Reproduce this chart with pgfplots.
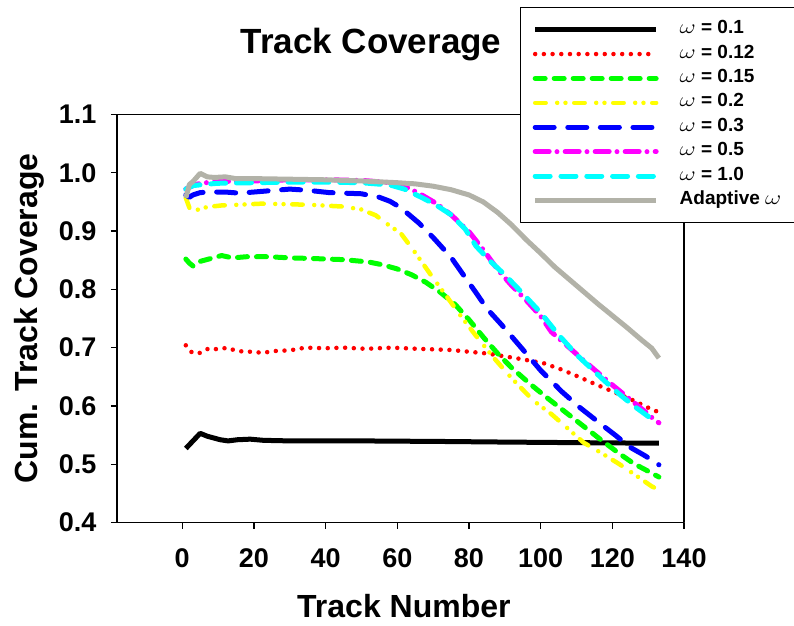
\documentclass[border=0pt]{standalone}
\usepackage{pgfplots}
\pgfplotsset{compat=1.18}
\usepackage{fontspec}
\setmainfont{Liberation Sans}
\definecolor{adapt}{RGB}{178,178,168}
\definecolor{cred}{RGB}{255,0,0}
\definecolor{cgreen}{RGB}{0,255,0}
\definecolor{cyellow}{RGB}{255,255,0}
\definecolor{cblue}{RGB}{0,0,255}
\definecolor{cmag}{RGB}{255,0,255}
\definecolor{ccyan}{RGB}{0,255,255}
\newcommand{\om}{\scalebox{1.45}[1.15]{$\omega$}}
\begin{document}
\begin{tikzpicture}
\useasboundingbox (0,0) rectangle (794pt,625pt);
\begin{axis}[
  at={(117pt,102.5pt)}, anchor=south west,
  scale only axis, width=567pt, height=408pt,
  xmin=-18.2, xmax=140, ymin=0.4, ymax=1.1,
  xtick={0,20,40,60,80,100,120,140},
  ytick={0.4,0.5,0.6,0.7,0.8,0.9,1.0,1.1},
  yticklabel style={xshift=-11pt, /pgf/number format/.cd, fixed, fixed zerofill, precision=1},
  /pgf/number format/assume math mode=true,
  tick label style={font=\fontsize{27}{32}\selectfont\bfseries},
  xticklabel style={yshift=-17pt},
  axis line style={line width=1.2pt},
  tick style={line width=1.2pt, black},
  major tick length=6pt, tick align=outside,
  xtick pos=bottom, ytick pos=left,
  no markers,
  title={Track Coverage},
  title style={font=\fontsize{35}{40}\selectfont\bfseries, at={(axis description cs:0.448,1.1336)}, anchor=base},
  xlabel={Track Number},
  xlabel style={font=\fontsize{32}{38}\selectfont\bfseries, at={(axis description cs:0.506,-0.2316)}, anchor=base},
  ylabel={Cum. Track Coverage},
  ylabel style={font=\fontsize{32}{38}\selectfont\bfseries, at={(axis description cs:-0.141,0.5)}, anchor=base},
  legend cell align=left,
  legend image code/.code={\draw[#1] (0pt,0pt) -- (121pt,0pt);},
  legend style={at={(axis description cs:0.7108,1.2635)}, anchor=north west,
    draw=black, line width=1.3pt, fill=white, inner xsep=12pt, inner ysep=14pt,
    row sep=8.4pt, font=\fontsize{19}{22}\selectfont\bfseries,
    nodes={inner sep=0pt, text height=12pt, text depth=4pt},
    /tikz/every odd column/.append style={column sep=21pt}},
  line join=round,
]
\addplot[black, line width=5pt] coordinates {
(1,0.527)(3,0.540)(5,0.553)(7,0.548)(10.6,0.542)(12.8,0.540)(15.4,0.542)(19,0.543)(22.6,0.541)(30,0.540)(38,0.540)(50,0.540)(73,0.539)(90,0.538)(110,0.537)(133,0.536)};
\addlegendentry{\om\ = 0.1}
\addplot[cred, line width=4.5pt, line cap=round, dash pattern=on 0pt off 8.7pt] coordinates {
(1,0.704)(2.8,0.691)(5,0.691)(7.5,0.699)(10.1,0.697)(12.6,0.700)(14.8,0.695)(17.3,0.693)(19.9,0.693)(22.2,0.691)(24.5,0.693)(27,0.695)(29.3,0.695)(31.8,0.697)(34.2,0.700)(40,0.699)(45,0.700)(51.3,0.698)(58.4,0.700)(65.7,0.698)(70.4,0.697)(75,0.696)(80,0.693)(85,0.690)(89,0.686)(95,0.680)(101,0.673)(106,0.662)(111,0.649)(115,0.638)(120,0.625)(125,0.612)(130,0.597)(133,0.589)};
\addlegendentry{\om\ = 0.12}
\addplot[cgreen, line width=5pt, line cap=round, dash pattern=on 10pt off 9pt] coordinates {
(1,0.852)(2,0.845)(3,0.840)(5,0.848)(8,0.853)(11,0.858)(14,0.854)(18,0.856)(24,0.856)(30,0.854)(36,0.853)(45,0.851)(52,0.847)(56,0.842)(60,0.835)(64,0.825)(68,0.812)(72,0.795)(76,0.775)(80,0.748)(84,0.718)(88,0.690)(92,0.665)(97,0.638)(102,0.613)(107,0.589)(112,0.565)(117,0.541)(122,0.518)(126,0.501)(130,0.488)(133,0.478)};
\addlegendentry{\om\ = 0.15}
\addplot[cyellow, line width=4.5pt, line cap=round, dash pattern=on 10.5pt off 11.5pt on 0pt off 8.3pt on 0pt off 8.7pt] coordinates {
(1,0.957)(2,0.940)(3,0.932)(5,0.939)(8,0.942)(11,0.944)(15,0.945)(22,0.947)(30,0.946)(36,0.945)(45,0.942)(50,0.937)(54,0.927)(57,0.913)(61,0.896)(65,0.863)(69,0.828)(74,0.786)(78,0.752)(82,0.720)(87,0.682)(92,0.647)(98,0.609)(103,0.586)(108,0.559)(112,0.537)(117,0.519)(122,0.500)(127,0.479)(131,0.462)(133,0.456)};
\addlegendentry{\om\ = 0.2}
\addplot[cblue, line width=5pt, line cap=round, dash pattern=on 19pt off 13.6pt] coordinates {
(1,0.962)(2,0.958)(3,0.962)(5,0.966)(8,0.967)(12,0.967)(16,0.965)(22,0.968)(30,0.972)(35,0.970)(41,0.966)(50,0.964)(55,0.958)(58,0.951)(61,0.940)(66,0.914)(70,0.889)(75,0.855)(79,0.820)(82,0.794)(85,0.767)(89,0.740)(95,0.697)(100,0.661)(106,0.624)(111,0.597)(117,0.568)(121,0.549)(125,0.529)(129,0.515)(133,0.499)};
\addlegendentry{\om\ = 0.3}
\addplot[cmag, line width=5pt, line cap=round, dash pattern=on 14pt off 7.8pt on 0pt off 8.2pt] coordinates {
(1,0.972)(3,0.978)(5,0.982)(10,0.985)(20,0.986)(30,0.988)(40,0.988)(50,0.987)(58,0.983)(62,0.977)(66,0.965)(71,0.947)(75,0.928)(80,0.899)(84,0.868)(88,0.834)(92,0.806)(96,0.781)(100,0.754)(103,0.727)(108,0.700)(112,0.678)(116,0.657)(120,0.636)(125,0.611)(129,0.591)(132,0.575)(133,0.571)};
\addlegendentry{\om\ = 0.5}
\addplot[ccyan, line width=5pt, line cap=round, dash pattern=on 15pt off 10.8pt] coordinates {
(1,0.972)(3,0.978)(6,0.980)(10,0.982)(20,0.983)(30,0.984)(40,0.984)(50,0.983)(58,0.979)(62,0.972)(67,0.957)(71,0.944)(75,0.928)(79,0.903)(82,0.874)(86,0.848)(90,0.825)(95,0.793)(100,0.760)(105,0.722)(110,0.688)(114,0.665)(118,0.642)(122,0.620)(126,0.600)(130,0.582)(132,0.574)};
\addlegendentry{\om\ = 1.0}
\addplot[adapt, line width=5pt] coordinates {
(1,0.957)(2,0.980)(3,0.985)(5,0.999)(7,0.993)(9,0.992)(12,0.993)(15,0.990)(20,0.990)(30,0.989)(40,0.988)(50,0.986)(60,0.983)(65,0.981)(70,0.977)(75,0.971)(80,0.962)(84,0.950)(88,0.932)(92,0.910)(96,0.885)(100,0.862)(104,0.838)(108,0.817)(112,0.796)(116,0.775)(120,0.755)(124,0.735)(128,0.714)(131,0.699)(133,0.682)};
\addlegendentry{Adaptive \om\rule{22pt}{0pt}}
\end{axis}
\end{tikzpicture}
\end{document}
